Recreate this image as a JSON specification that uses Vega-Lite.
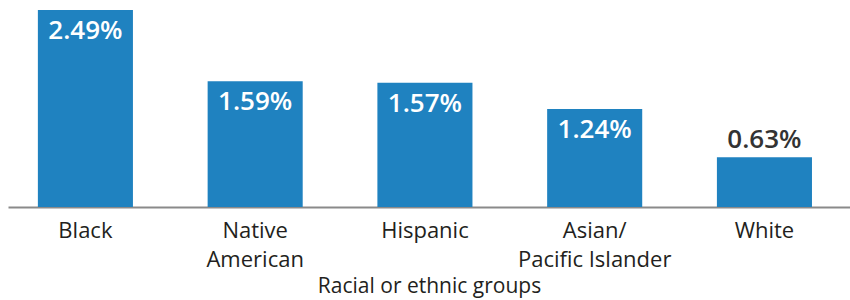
{
  "$schema": "https://vega.github.io/schema/vega-lite/v6.json",
  "width": 842,
  "height": 197,
  "autosize": {"type": "none"},
  "padding": {"left": 8, "top": 10, "right": 0, "bottom": 93},
  "config": {"view": {"stroke": null}, "font": "Open Sans"},
  "data": {"values": [
    {"group": "Black", "rate": 2.49},
    {"group": "Native American", "rate": 1.59},
    {"group": "Hispanic", "rate": 1.57},
    {"group": "Asian/Pacific Islander", "rate": 1.24},
    {"group": "White", "rate": 0.63}
  ]},
  "transform": [{"calculate": "format(datum.rate, '.2f') + '%'", "as": "label"}],
  "encoding": {
    "x": {
      "field": "group", "type": "nominal", "sort": null,
      "scale": {"paddingInner": 0.44, "paddingOuter": 0.2, "align": 0.44},
      "axis": {
        "title": "Racial or ethnic groups",
        "titleFont": "Open Sans", "titleFontSize": 21, "titleFontWeight": "normal", "titleColor": "#231f20",
        "titlePadding": 5,
        "labelAngle": 0, "labelFontSize": 22, "labelColor": "#231f20", "labelPadding": 13,
        "labelLineHeight": 29, "labelBaseline": "top",
        "labelExpr": "datum.value == 'Native American' ? ['Native', 'American'] : datum.value == 'Asian/Pacific Islander' ? ['Asian/', 'Pacific Islander'] : datum.value",
        "ticks": false, "domainColor": "#8a8a8a", "domainWidth": 2
      }
    },
    "y": {
      "field": "rate", "type": "quantitative",
      "scale": {"domain": [0, 2.49], "nice": false},
      "axis": null
    }
  },
  "layer": [
    {"mark": {"type": "bar", "color": "#1f82c0"}},
    {
      "transform": [{"filter": "datum.rate > 1"}],
      "mark": {"type": "text", "baseline": "top", "dy": 8, "fontSize": 26, "fontWeight": 600, "color": "white"},
      "encoding": {"text": {"field": "label", "type": "nominal"}}
    },
    {
      "transform": [{"filter": "datum.rate <= 1"}],
      "mark": {"type": "text", "baseline": "alphabetic", "dy": -9, "fontSize": 26, "fontWeight": 600, "color": "#333333"},
      "encoding": {"text": {"field": "label", "type": "nominal"}}
    }
  ]
}
